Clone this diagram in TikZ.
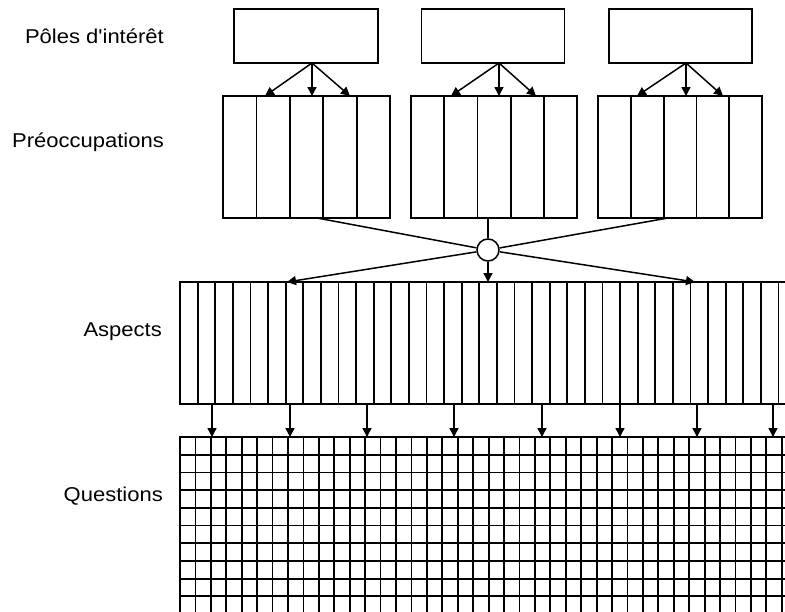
\documentclass[tikz,border=0pt]{standalone}
\usepackage{fontspec}
\newfontfamily\lbl[FakeStretch=1.1]{Liberation Sans}
\usetikzlibrary{arrows.meta,calc}
\begin{document}
\begin{tikzpicture}[x=1pt,y=-1pt,
  ln/.style={line width=1.8pt},
  box/.style={draw,line width=1.8pt,rectangle,inner sep=0pt,outer sep=0pt},
  arr/.style={line width=1.5pt,-{Triangle[length=9pt,width=9pt]}},
  lab/.style={inner sep=0pt,font=\lbl\fontsize{20pt}{24pt}\selectfont}]
\useasboundingbox (0,0) rectangle (785,611);
\clip (0,0) rectangle (785,611);
% labels
\node[lab,anchor=base east] (l1) at (164,43) {Pôles d'intérêt};
\node[lab,anchor=base east] (l2) at (164,147) {Préoccupations};
\node[lab,anchor=base east] (l3) at (162,336) {Aspects};
\node[lab,anchor=base east] (l4) at (163,501) {Questions};
% poles
\node[box,minimum width=144pt,minimum height=54pt] (p1) at (306,36) {};
\node[box,minimum width=143pt,minimum height=54pt] (p2) at (493,36) {};
\node[box,minimum width=143pt,minimum height=54pt] (p3) at (680.5,36) {};
% preoccupations
\node[box,minimum width=167pt,minimum height=122pt] (q1) at (306.5,157) {};
\node[box,minimum width=166pt,minimum height=122pt] (q2) at (494,157) {};
\node[box,minimum width=164pt,minimum height=122pt] (q3) at (680,157) {};
\foreach \q in {q1,q2,q3}{
  \foreach \i in {1,...,4}
    \draw[ln] ($(\q.north west)!\i/5!(\q.north east)$) -- ($(\q.south west)!\i/5!(\q.south east)$);
}
% arrows poles -> preoccupations
\foreach \p/\s/\a/\b/\c in {p1/312/265/312/350, p2/499/451/499/536, p3/686/637/686/723}{
  \coordinate (\p s) at (\s,63);
  \coordinate (\p a) at (\a,96);
  \coordinate (\p b) at (\b,96);
  \coordinate (\p c) at (\c,96);
  \draw[arr] (\p s) -- (\p a);
  \draw[arr] (\p s) -- (\p b);
  \draw[arr] (\p s) -- (\p c);
}
% aspects
\node[box,minimum width=620pt,minimum height=122pt] (asp) at (490,343) {};
\foreach \n in {1,...,35}
  \draw[ln] ({180+17.6*\n},282) -- ({180+17.6*\n},404);
% questions
\node[box,minimum width=620pt,minimum height=193pt] (qs) at (490,533.5) {};
\foreach \n in {1,...,40}
  \draw[ln] ({180+15.43*\n},437) -- ({180+15.43*\n},630);
\foreach \k in {1,...,10}
  \draw[ln] (180,{437+17.7*\k}) -- (800,{437+17.7*\k});
% circle hub
\node[draw,circle,line width=1.5pt,minimum size=22pt,inner sep=0pt,fill=white] (c) at (488,250) {};
\coordinate (i1) at (317,218);
\coordinate (i2) at (488,218);
\coordinate (i3) at (668,218);
\draw[line width=1.5pt] (i1) -- (c);
\draw[line width=1.5pt] (i2) -- (c);
\draw[line width=1.5pt] (i3) -- (c);
\coordinate (o1) at (287,282);
\coordinate (o2) at (488,282);
\coordinate (o3) at (695,282);
\draw[arr] (c) -- (o1);
\draw[arr] (c) -- (o2);
\draw[arr] (c) -- (o3);
% aspects -> questions
\foreach \x [count=\j] in {212,290,367,454,542,620,697,773}{
  \coordinate (ua\j) at (\x,404);
  \coordinate (ub\j) at (\x,437);
  \draw[arr] (ua\j) -- (ub\j);
}
\end{tikzpicture}
\end{document}
